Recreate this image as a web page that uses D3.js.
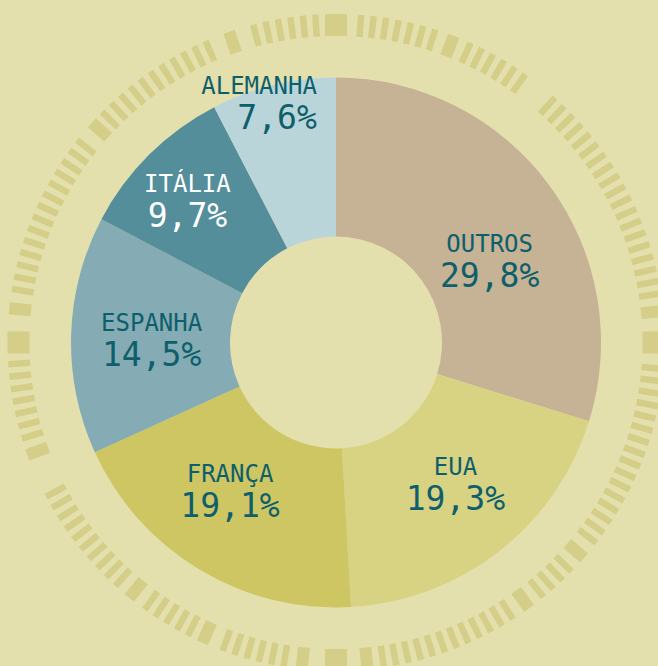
<!DOCTYPE html>
<html>
<head>
<meta charset="utf-8">
<script src="https://cdn.jsdelivr.net/npm/d3@7"></script>
<style>
  html, body { margin: 0; padding: 0; background: #e3e0ad; }
  svg { display: block; }
</style>
</head>
<body>
<div id="chart"></div>
<script>
// data
var countries = ["OUTROS", "EUA", "FRANÇA", "ESPANHA", "ITÁLIA", "ALEMANHA"];
var shares = [29.8, 19.3, 19.1, 14.5, 9.7, 7.6];
var labels = ["29,8%", "19,3%", "19,1%", "14,5%", "9,7%", "7,6%"];
var colors = ["#c6b294", "#d8d283", "#cec663", "#85abb4", "#548e9b", "#bad5d9"];

var width = 658, height = 666;
var cx = 336, cy = 342.5;

var svg = d3.select("#chart")
  .append("svg")
    .attr("width", width)
    .attr("height", height);

svg.append("rect")
  .attr("width", width)
  .attr("height", height)
  .attr("fill", "#e3e0ad");

var g = svg.append("g")
  .attr("transform", "translate(" + cx + "," + cy + ")");

// decorative tick ring
var ringIn = 306.5, ringOut = 328.5;
var bigAt = [0, 90, 180, 270];
var midAt = [-19, 21, 84.5, 131, 144, 174.5, 186, 204, 219, 250, 276, 312];
var gaps = [[36.5, 41.5], [242.5, 248]];

var ticks = [];
d3.range(0, 360, 2.2).forEach(function(a) {
  var inGap = gaps.some(function(gp) { return a > gp[0] && a < gp[1]; });
  var nearBlock = bigAt.concat(midAt).some(function(b) {
    var d = Math.abs(((a - b) % 360 + 540) % 360 - 180);
    return d < (bigAt.indexOf(b) >= 0 ? 3.4 : 2.4);
  });
  if (!inGap && !nearBlock) ticks.push({a: a, w: 6.5});
});
bigAt.forEach(function(a) { ticks.push({a: a, w: 22}); });
midAt.forEach(function(a) { ticks.push({a: a, w: 12}); });

g.append("g")
  .selectAll("rect")
  .data(ticks)
  .enter()
  .append("rect")
    .attr("x", function(d) { return -d.w / 2; })
    .attr("y", -ringOut)
    .attr("width", function(d) { return d.w; })
    .attr("height", ringOut - ringIn)
    .attr("transform", function(d) { return "rotate(" + d.a + ")"; })
    .attr("fill", "#d4ce88");

// donut
var pie = d3.pie().sort(null).value(function(d) { return d; });
var arcs = pie(shares);
var arc = d3.arc().innerRadius(106).outerRadius(265);

g.append("g")
  .selectAll("path")
  .data(arcs)
  .enter()
  .append("path")
    .attr("d", arc)
    .attr("fill", function(d, i) { return colors[i]; });

// label placement: [angle in degrees, radius, anchor]
var labelPos = {
  "OUTROS":   [60.8, 176, "middle"],
  "EUA":      [139, 182, "middle"],
  "FRANÇA":   [216.3, 179, "middle"],
  "ESPANHA":  [272, 184.5, "middle"],
  "ITÁLIA":   [314.4, 208, "middle"],
  "ALEMANHA": [355.5, 244, "end"]
};

var lab = g.append("g")
  .selectAll("g")
  .data(countries)
  .enter()
  .append("g")
    .attr("transform", function(d) {
      var p = labelPos[d], a = p[0] * Math.PI / 180;
      return "translate(" + (p[1] * Math.sin(a)) + "," + (-p[1] * Math.cos(a)) + ")";
    });

lab.append("text")
  .attr("y", -5)
  .attr("text-anchor", function(d) { return labelPos[d][2]; })
  .style("font-family", "'DejaVu Sans Mono', monospace")
  .style("font-size", "24px")
  .style("fill", function(d) { return d == "ITÁLIA" ? "#ffffff" : "#0d5f6b"; })
  .text(function(d) { return d; });

lab.append("text")
  .attr("y", 30)
  .attr("text-anchor", function(d) { return labelPos[d][2]; })
  .style("font-family", "'DejaVu Sans Mono', monospace")
  .style("font-size", "33px")
  .style("fill", function(d) { return d == "ITÁLIA" ? "#ffffff" : "#0d5f6b"; })
  .text(function(d, i) { return labels[i]; });
</script>
</body>
</html>
